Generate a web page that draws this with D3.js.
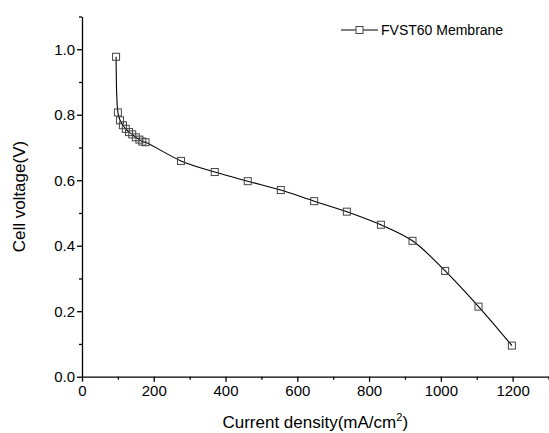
<!DOCTYPE html>
<html>
<head>
<meta charset="utf-8">
<script src="https://cdn.jsdelivr.net/npm/d3@7"></script>
<style>
  body { margin: 0; background: #fff; }
  text { font-family: "Liberation Sans", Arial, sans-serif; fill: #000; }
</style>
</head>
<body>
<div id="chart"></div>
<script>
// Polarization curve data
let currentDensity = [95, 100, 106, 114, 122, 131, 140, 150, 160, 168, 177,
                      276, 370, 462, 554, 647, 738, 833, 921, 1012, 1105, 1198];
let cellVoltage = [0.977, 0.807, 0.783, 0.768, 0.757, 0.747, 0.740, 0.731, 0.724, 0.718, 0.716,
                   0.659, 0.625, 0.597, 0.570, 0.536, 0.504, 0.464, 0.415, 0.323, 0.214, 0.095];
let xTicks = [0, 200, 400, 600, 800, 1000, 1200];
let yTicks = [0.0, 0.2, 0.4, 0.6, 0.8, 1.0];
let seriesName = "FVST60 Membrane";

let svgWidth = 549;
let svgHeight = 433;
let margin = { top: 16.5, right: 0.5, bottom: 56.3, left: 82 };
let width = svgWidth - margin.left - margin.right;
let height = svgHeight - margin.top - margin.bottom;

let data = currentDensity.map((d, i) => ({ x: d, y: cellVoltage[i] }));

let svg = d3.select("#chart")
    .append("svg")
    .attr("width", svgWidth)
    .attr("height", svgHeight);

let chartGroup = svg.append("g")
    .attr("transform", `translate(${margin.left}, ${margin.top})`);

let xScale = d3.scaleLinear().domain([0, 1300]).range([0, width]);
let yScale = d3.scaleLinear().domain([0, 1.1]).range([height, 0]);

// minor ticks first
chartGroup.append("g")
    .attr("transform", `translate(0, ${height})`)
    .call(d3.axisBottom(xScale).tickValues(d3.range(100, 1301, 200)).tickSize(3).tickFormat(""))
    .call(g => g.select(".domain").remove());
chartGroup.append("g")
    .call(d3.axisLeft(yScale).tickValues([0.1, 0.3, 0.5, 0.7, 0.9, 1.1]).tickSize(3).tickFormat(""))
    .call(g => g.select(".domain").remove());

// major axes
chartGroup.append("g")
    .attr("transform", `translate(0, ${height})`)
    .call(d3.axisBottom(xScale).tickValues(xTicks).tickSize(5).tickSizeOuter(0).tickPadding(4)
        .tickFormat(d3.format("d")));
chartGroup.append("g")
    .call(d3.axisLeft(yScale).tickValues(yTicks).tickSize(5).tickSizeOuter(0).tickPadding(2)
        .tickFormat(d3.format(".1f")));

chartGroup.selectAll(".tick line, .domain").attr("stroke", "#000").attr("stroke-width", 1.3);
chartGroup.selectAll(".tick text")
    .style("font-size", "15px")
    .style("font-family", "Liberation Sans, Arial, sans-serif");

// curve
let line = d3.line()
    .x(d => xScale(d.x))
    .y(d => yScale(d.y))
    .curve(d3.curveCatmullRom.alpha(0.5));

chartGroup.append("path")
    .datum(data)
    .attr("fill", "none")
    .attr("stroke", "#000")
    .attr("stroke-width", 1.1)
    .attr("d", line);

// markers
chartGroup.selectAll(".pt")
    .data(data)
    .enter()
    .append("rect")
    .attr("class", "pt")
    .attr("x", d => xScale(d.x) - 3.5)
    .attr("y", d => yScale(d.y) - 3.5)
    .attr("width", 7)
    .attr("height", 7)
    .attr("fill", "none")
    .attr("stroke", "#444")
    .attr("stroke-width", 1);

// legend
let legend = svg.append("g").attr("transform", "translate(341, 30)");
legend.append("line")
    .attr("x1", 0).attr("x2", 37).attr("y1", 0).attr("y2", 0)
    .attr("stroke", "#000").attr("stroke-width", 1.1);
legend.append("rect")
    .attr("x", 15).attr("y", -3.5).attr("width", 7).attr("height", 7)
    .attr("fill", "#fff").attr("stroke", "#444");
legend.append("text")
    .attr("x", 40).attr("y", 5)
    .style("font-size", "14px")
    .text(seriesName);

// axis labels
svg.append("text")
    .attr("transform", `translate(25, ${margin.top + height / 2}) rotate(-90)`)
    .style("text-anchor", "middle")
    .style("font-size", "17px")
    .text("Cell voltage(V)");

let xLabel = svg.append("text")
    .attr("x", margin.left + width / 2)
    .attr("y", 428)
    .style("text-anchor", "middle")
    .style("font-size", "17px");
xLabel.append("tspan").text("Current density(mA/cm");
xLabel.append("tspan").attr("dy", -7).style("font-size", "11px").text("2");
xLabel.append("tspan").attr("dy", 7).text(")");
</script>
</body>
</html>
